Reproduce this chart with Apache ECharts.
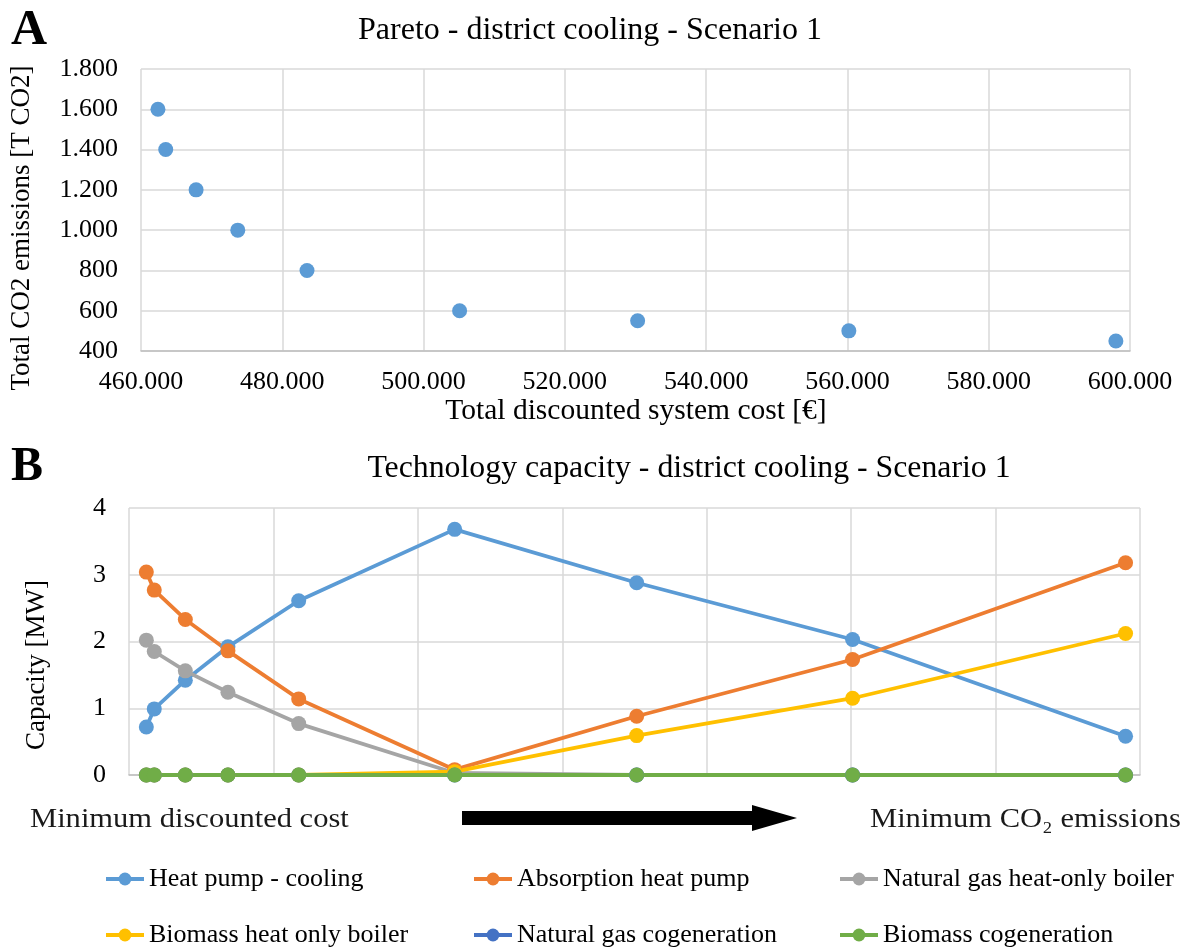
<!DOCTYPE html>
<html>
<head>
<meta charset="utf-8">
<script src="https://cdn.jsdelivr.net/npm/echarts@6/dist/echarts.min.js"></script>
<style>
html,body{margin:0;padding:0;background:#fff;}
#c{width:1189px;height:949px;}
</style>
</head>
<body>
<div id="c"></div>
<script>
// ---- data ----
const costs = [462400, 463500, 467800, 473700, 483500, 505100, 530300, 560200, 598000];
const emissions = [1600, 1400, 1200, 1000, 800, 600, 550, 500, 450];
const seriesNames = ['Heat pump - cooling', 'Absorption heat pump', 'Natural gas heat-only boiler',
  'Biomass heat only boiler', 'Natural gas cogeneration', 'Biomass cogeneration'];
const heatPump   = [0.72, 0.99, 1.42, 1.92, 2.61, 3.68, 2.88, 2.03, 0.58];
const absorption = [3.04, 2.77, 2.33, 1.86, 1.14, 0.08, 0.88, 1.73, 3.18];
const ngBoiler   = [2.02, 1.85, 1.56, 1.24, 0.77, 0.03, 0, 0, 0];
const bioBoiler  = [0, 0, 0, 0, 0, 0.05, 0.59, 1.15, 2.12];
const ngCogen    = [0, 0, 0, 0, 0, 0, 0, 0, 0];
const bioCogen   = [0, 0, 0, 0, 0, 0, 0, 0, 0];
const capacities = [heatPump, absorption, ngBoiler, bioBoiler, ngCogen, bioCogen];
const colors = ['#5B9BD5', '#ED7D31', '#A5A5A5', '#FFC000', '#4472C4', '#70AD47'];

const FF = '"Liberation Serif", "Times New Roman", serif';
const fmt = v => String(v).replace(/\B(?=(\d{3})+(?!\d))/g, '.');
const pair = ys => costs.map((c, i) => [c, ys[i]]);

const chart = echarts.init(document.getElementById('c'), null, {renderer: 'canvas'});

const legendPos = [[104, 864], [472, 864], [838, 864], [104, 920], [472, 920], [838, 920]];

const option = {
  backgroundColor: '#fff',
  animation: false,
  grid: [
    {left: 141, top: 69, width: 989, height: 282},
    {left: 129, top: 508, width: 1011, height: 267}
  ],
  xAxis: [
    {type: 'value', gridIndex: 0, min: 460000, max: 600000, interval: 20000,
     axisLine: {show: true, lineStyle: {color: '#bfbfbf', width: 1.5}},
     axisTick: {show: false},
     axisLabel: {color: '#000', fontFamily: FF, fontSize: 26, margin: 18, formatter: fmt},
     splitLine: {show: true, lineStyle: {color: '#d9d9d9', width: 1.5}}},
    {type: 'value', gridIndex: 1, min: 460000, max: 600000, interval: 20000,
     axisLine: {show: true, lineStyle: {color: '#bfbfbf', width: 1.5}},
     axisTick: {show: false},
     axisLabel: {show: false},
     splitLine: {show: true, lineStyle: {color: '#d9d9d9', width: 1.5}}}
  ],
  yAxis: [
    {type: 'value', gridIndex: 0, min: 400, max: 1800, interval: 200,
     axisLine: {show: false}, axisTick: {show: false},
     axisLabel: {color: '#000', fontFamily: FF, fontSize: 26, margin: 23, formatter: fmt},
     splitLine: {show: true, lineStyle: {color: '#d9d9d9', width: 1.5}}},
    {type: 'value', gridIndex: 1, min: 0, max: 4, interval: 1,
     axisLine: {show: false}, axisTick: {show: false},
     axisLabel: {color: '#000', fontFamily: FF, fontSize: 26, margin: 23},
     splitLine: {show: true, lineStyle: {color: '#d9d9d9', width: 1.5}}}
  ],
  legend: legendPos.map((p, i) => ({
    data: [seriesNames[i]], left: p[0], top: p[1], selectedMode: false,
    itemWidth: 38, itemHeight: 16, itemGap: 0, padding: 0,
    lineStyle: {width: 4},
    textStyle: {color: '#000', fontFamily: FF, fontSize: 26, lineHeight: 30, padding: [0, 0, 0, 0]}
  })),
  series: [
    {type: 'scatter', name: 'Pareto', xAxisIndex: 0, yAxisIndex: 0,
     data: pair(emissions), symbolSize: 15, itemStyle: {color: '#5B9BD5', opacity: 1}}
  ].concat(capacities.map((ys, i) => ({
    type: 'line', name: seriesNames[i], xAxisIndex: 1, yAxisIndex: 1,
    data: pair(ys), symbol: 'circle', symbolSize: 15, showSymbol: true,
    lineStyle: {color: colors[i], width: 3.8},
    itemStyle: {color: colors[i]},
    emphasis: {disabled: true}
  }))),
  graphic: [
    {type: 'text', left: 11, top: 6, style: {text: 'A', font: 'bold 50px ' + FF, fill: '#000'}},
    {type: 'text', left: 11, top: 444, style: {text: 'B', font: 'bold 48px ' + FF, fill: '#000'}},
    {type: 'text', x: 590, y: 31, style: {text: 'Pareto - district cooling - Scenario 1', font: '32px ' + FF, fill: '#000', align: 'center', verticalAlign: 'middle'}},
    {type: 'text', x: 689, y: 469, style: {text: 'Technology capacity - district cooling - Scenario 1', font: '31.8px ' + FF, fill: '#000', align: 'center', verticalAlign: 'middle'}},
    {type: 'text', x: 636, y: 411, style: {text: 'Total discounted system cost [€]', font: '29.5px ' + FF, fill: '#000', align: 'center', verticalAlign: 'middle'}},
    {type: 'text', x: 22, y: 228, rotation: Math.PI / 2, style: {text: 'Total CO2 emissions [T CO2]', font: '27px ' + FF, fill: '#000', align: 'center', verticalAlign: 'middle'}},
    {type: 'text', x: 37, y: 665, rotation: Math.PI / 2, style: {text: 'Capacity [MW]', font: '27px ' + FF, fill: '#000', align: 'center', verticalAlign: 'middle'}},
    {type: 'text', x: 30, y: 820, scaleX: 1.09, style: {text: 'Minimum discounted cost', font: '28px ' + FF, fill: '#1a1a1a', align: 'left', verticalAlign: 'middle'}},
    {type: 'text', x: 870, y: 820, scaleX: 1.09, style: {text: 'Minimum CO\u2082 emissions', font: '28px ' + FF, fill: '#1a1a1a', align: 'left', verticalAlign: 'middle'}},
    {type: 'polygon', shape: {points: [[462, 811], [752, 811], [752, 805], [797, 818], [752, 831], [752, 825], [462, 825]]}, style: {fill: '#000'}}
  ]
};
chart.setOption(option);
</script>
</body>
</html>
